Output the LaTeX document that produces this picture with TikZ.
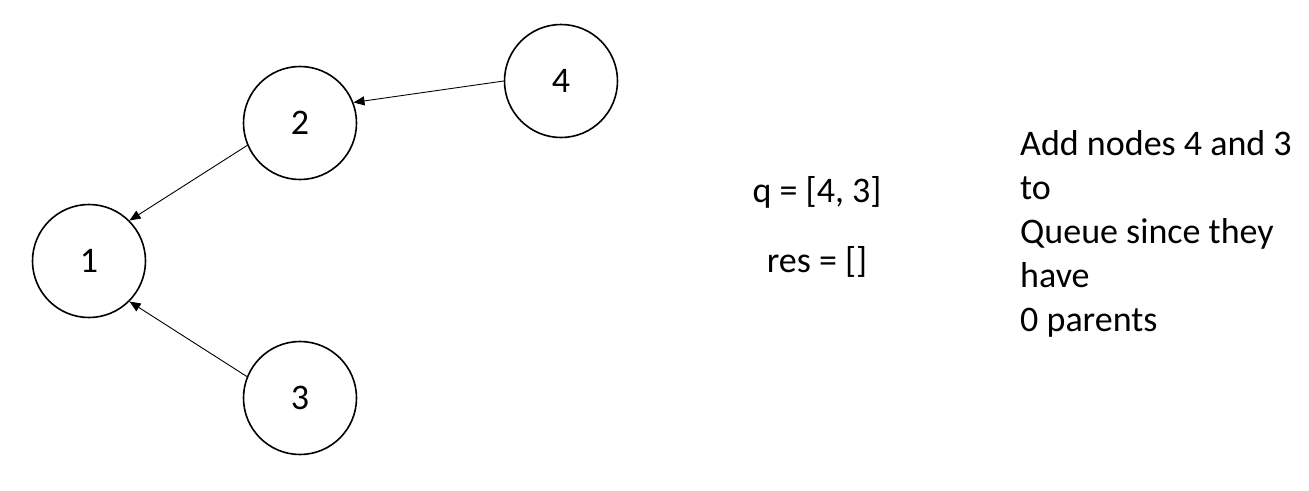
\documentclass[tikz,border=0pt]{standalone}
\usepackage{fontspec}
\setmainfont{Carlito}
\usetikzlibrary{arrows.meta}
\begin{document}
\begin{tikzpicture}[x=1pt,y=-1pt,
  vertex/.style={circle,draw,line width=1.6pt,minimum size=113pt,inner sep=0pt,font=\fontsize{36}{42}\selectfont},
  edge/.style={line width=0.9pt,-{Triangle[length=11pt,width=9pt]}},
  label/.style={font=\fontsize{36}{44}\selectfont,inner sep=0pt}]
\useasboundingbox[fill=white] (0,0) rectangle (1309,490);
\node[vertex] (n1) at (89,261) {1};
\node[vertex] (n2) at (300,123) {2};
\node[vertex] (n3) at (300,398) {3};
\node[vertex] (n4) at (561,81) {4};
\draw[edge] (n4.west) -- (n2.21);
\draw[edge] (n2.203) -- (n1.45);
\draw[edge] (n3.158) -- (n1.-45);
\node[label,anchor=base] (q) at (817,202) {q = [4, 3]};
\node[label,anchor=base] (res) at (817,272) {res = []};
\node[label,anchor=north west,align=left] (note) at (1020,130) {Add nodes 4 and 3\\to\\Queue since they\\have\\0 parents};
\end{tikzpicture}
\end{document}
